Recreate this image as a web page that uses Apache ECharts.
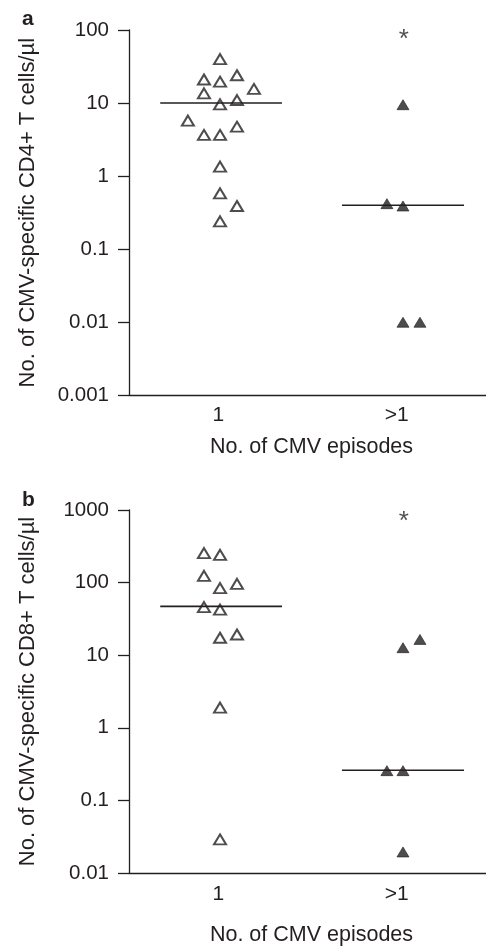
<!DOCTYPE html>
<html>
<head>
<meta charset="utf-8">
<script src="https://cdn.jsdelivr.net/npm/echarts@6/dist/echarts.min.js"></script>
<style>
html,body{margin:0;padding:0;background:#fff;}
#chart{width:486px;height:947px;}
</style>
</head>
<body>
<div id="chart"></div>
<script>
// ---- data ----
const categories = ['1', '>1'];
const panelLabels = ['a', 'b'];
const yNames = ['No. of CMV-specific CD4+ T cells/\u00b5l', 'No. of CMV-specific CD8+ T cells/\u00b5l'];
const xName = 'No. of CMV episodes';
// [x position (category 1 or 2, with jitter), value]
const cd4One = [[1.01,40],[0.92,21],[1.01,19.6],[1.105,24],[1.20,15.6],[0.92,13.6],[1.01,9.6],[1.105,11],[0.83,5.75],[0.92,3.66],[1.01,3.66],[1.105,4.75],[1.01,1.35],[1.01,0.58],[1.105,0.39],[1.01,0.24]];
const cd4More = [[2.035,9.5],[1.945,0.42],[2.035,0.39],[2.035,0.01],[2.13,0.01]];
const cd4Median = [10, 0.4];
const cd8One = [[0.92,255],[1.01,241],[0.92,124],[1.01,84],[1.105,96],[0.92,46],[1.01,42.5],[1.01,17.4],[1.105,19.3],[1.01,1.9],[1.01,0.029]];
const cd8More = [[2.035,12.7],[2.13,16.5],[1.945,0.257],[2.035,0.257],[2.035,0.0195]];
const cd8Median = [47, 0.26];
const medianSpans = [[0.675, 1.357], [1.693, 2.377]];
const asteriskPos = [[2.04, 74], [2.04, 680]];
const yRanges = [[0.001, 100], [0.01, 1000]];

const INK = '#231f20';
const FONT = '"Liberation Sans", Arial, Helvetica, sans-serif';

function fmtLog(v) {
  const e = Math.round(Math.log10(v));
  return e >= 0 ? String(Math.pow(10, e)) : Math.pow(10, e).toFixed(-e);
}

const grids = [
  {left: 129, right: 0, top: 30, height: 365.3},
  {left: 129, right: 0, top: 510, height: 364.3}
];
const xLabelMargins = [9.5, 11];
const xNameGaps = [41, 51];

const xAxes = grids.map((g, i) => ({
  type: 'value', gridIndex: i, min: 0.5, max: 2.5,
  axisLine: {show: true, lineStyle: {color: INK, width: 1.3}},
  axisTick: {show: false},
  splitLine: {show: false},
  axisLabel: {customValues: [1, 2], formatter: v => categories[Math.round(v) - 1],
    color: INK, fontFamily: FONT, fontSize: 21, margin: xLabelMargins[i]},
  name: xName, nameLocation: 'middle', nameGap: xNameGaps[i],
  nameTextStyle: {color: INK, fontFamily: FONT, fontSize: 21.5, padding: [0, 0, 0, 8]}
}));

const yAxes = grids.map((g, i) => ({
  type: 'log', logBase: 10, gridIndex: i, min: yRanges[i][0], max: yRanges[i][1],
  splitNumber: 5,
  axisLine: {show: true, lineStyle: {color: INK, width: 1.3}},
  axisTick: {show: true, length: 11, lineStyle: {color: INK, width: 1.3}},
  splitLine: {show: false},
  minorTick: {show: false},
  axisLabel: {formatter: fmtLog, color: INK, fontFamily: FONT, fontSize: 20.5, margin: 20},
  name: yNames[i], nameLocation: 'middle', nameGap: 90,
  nameTextStyle: {color: INK, fontFamily: FONT, fontSize: 22}
}));

const openStyle = {color: '#ffffff', borderColor: INK, borderWidth: 2};
const fillStyle = {color: INK, borderColor: INK, borderWidth: 0.8};

const panels = [
  {one: cd4One, more: cd4More, median: cd4Median},
  {one: cd8One, more: cd8More, median: cd8Median}
];

const series = [];
panels.forEach((p, i) => {
  p.median.forEach((m, k) => {
    series.push({
      type: 'line', xAxisIndex: i, yAxisIndex: i, symbol: 'none', silent: true,
      lineStyle: {color: INK, width: 1.6},
      data: [[medianSpans[k][0], m], [medianSpans[k][1], m]]
    });
  });
  series.push({
    type: 'scatter', xAxisIndex: i, yAxisIndex: i, symbol: 'triangle', symbolSize: [12, 10],
    itemStyle: openStyle, data: p.one
  });
  series.push({
    type: 'scatter', xAxisIndex: i, yAxisIndex: i, symbol: 'triangle', symbolSize: [12, 10],
    itemStyle: fillStyle, data: p.more
  });
  series.push({
    type: 'scatter', xAxisIndex: i, yAxisIndex: i, symbolSize: 0,
    label: {show: true, position: 'inside', formatter: '*', color: INK, fontFamily: FONT, fontSize: 26},
    data: [asteriskPos[i]]
  });
});

const chart = echarts.init(document.getElementById('chart'), null, {renderer: 'canvas'});
chart.setOption({
  animation: false,
  backgroundColor: '#ffffff',
  title: [
    {text: panelLabels[0], left: 17, top: 4, textStyle: {fontFamily: FONT, fontSize: 21, fontWeight: 'bold', color: INK}},
    {text: panelLabels[1], left: 17, top: 485, textStyle: {fontFamily: FONT, fontSize: 21, fontWeight: 'bold', color: INK}}
  ],
  grid: grids,
  xAxis: xAxes,
  yAxis: yAxes,
  series: series
});
</script>
</body>
</html>
